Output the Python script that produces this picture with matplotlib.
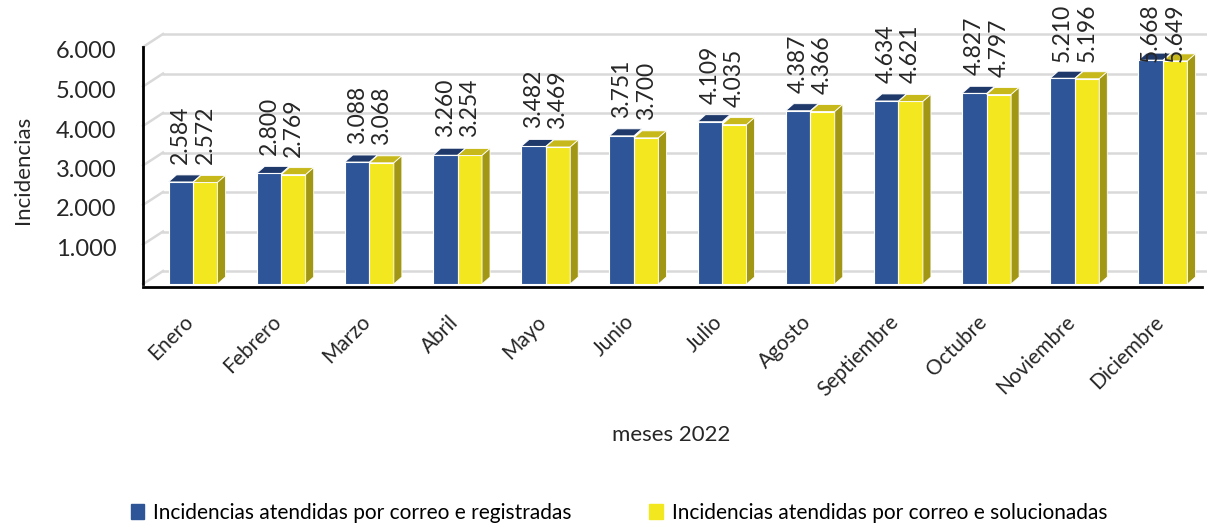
import matplotlib
matplotlib.use("Agg")
import matplotlib.pyplot as plt
import matplotlib.transforms as mtransforms
from matplotlib.patches import Polygon, Patch
import numpy as np

plt.rcParams['font.family'] = ['Lato', 'DejaVu Sans']
plt.rcParams['font.weight'] = 'normal'

months = ["Enero", "Febrero", "Marzo", "Abril", "Mayo", "Junio", "Julio",
          "Agosto", "Septiembre", "Octubre", "Noviembre", "Diciembre"]
registradas = [2584, 2800, 3088, 3260, 3482, 3751, 4109, 4387, 4634, 4827, 5210, 5668]
solucionadas = [2572, 2769, 3068, 3254, 3469, 3700, 4035, 4366, 4621, 4797, 5196, 5649]
series_names = ["Incidencias atendidas por correo e registradas",
                "Incidencias atendidas por correo e solucionadas"]
yticks = [1000, 2000, 3000, 4000, 5000, 6000]
ytick_labels = ["1.000", "2.000", "3.000", "4.000", "5.000", "6.000"]

def fmt(v):
    return f"{v:,}".replace(",", ".")

BLUE, BLUE_TOP = "#2E5597", "#1F3A6A"
YEL, YEL_TOP, YEL_SIDE = "#F3E71F", "#C7B81C", "#A19714"
GRID = "#D9D9D9"
TXT = "#262626"

W, H = 1207, 529
fig = plt.figure(figsize=(W / 100, H / 100), dpi=100)
ax_l, ax_r, ax_t, ax_b = 143, 1202, 47, 284
ax = fig.add_axes([ax_l / W, 1 - ax_b / H, (ax_r - ax_l) / W, (ax_b - ax_t) / H])

x = np.arange(len(months))
spacing = 88.18
xl = (ax_l - 193) / spacing
xr = (ax_r - 193) / spacing
ax.set_xlim(xl, xr)
ax.set_ylim(0, 6000)

# pixel -> data conversions
px_x = (xr - xl) / (ax_r - ax_l)
px_y = 6000 / (ax_b - ax_t)

# back wall gridlines (perspective)
wall_dx, wall_dy = 20, 13
for v in [0] + yticks:
    yb = v + wall_dy * px_y
    ax.plot([xl, xl + wall_dx * px_x], [v, yb], color=GRID, lw=1.8, clip_on=False, zorder=0)
    ax.plot([xl + wall_dx * px_x, xr + 8 * px_x], [yb, yb], color=GRID, lw=1.8, clip_on=False, zorder=0)

bw = 24.5 * px_x
ddx, ddy = 8 * px_x, 7 * px_y

ax.bar(x - bw / 2, registradas, width=bw, color=BLUE, edgecolor="white", lw=0.8, zorder=3)
ax.bar(x + bw / 2, solucionadas, width=bw, color=YEL, edgecolor="white", lw=0.8, zorder=3)

for i in range(len(months)):
    x0, x1, h = x[i] - bw, x[i], registradas[i]
    ax.add_patch(Polygon([(x0, h), (x1, h), (x1 + ddx, h + ddy), (x0 + ddx, h + ddy)],
                         closed=True, facecolor=BLUE_TOP, edgecolor="white", lw=0.6, zorder=2))
    x0, x1, h = x[i], x[i] + bw, solucionadas[i]
    ax.add_patch(Polygon([(x0, h), (x1, h), (x1 + ddx, h + ddy), (x0 + ddx, h + ddy)],
                         closed=True, facecolor=YEL_TOP, edgecolor="white", lw=0.6, zorder=4))
    ax.add_patch(Polygon([(x1, 0), (x1, h), (x1 + ddx, h + ddy), (x1 + ddx, ddy)],
                         closed=True, facecolor=YEL_SIDE, edgecolor="white", lw=0.6, zorder=4))

# value labels
gap = 18 * px_y
label_max = 5620
for i in range(len(months)):
    for vals, off in ((registradas, -bw / 2), (solucionadas, bw / 2)):
        yv = min(vals[i] + gap, label_max)
        ax.text(x[i] + off, yv, fmt(vals[i]), rotation=90, ha="center", va="bottom",
                fontsize=16.5, color=TXT, zorder=6, clip_on=False)

for s in ["top", "right"]:
    ax.spines[s].set_visible(False)
ax.spines["left"].set_linewidth(2)
ax.spines["bottom"].set_linewidth(2)
ax.spines["bottom"].set_position(("outward", 2))
ax.set_yticks(yticks)
ax.set_yticklabels(ytick_labels, fontsize=17, color=TXT)
ax.tick_params(axis="y", length=0, pad=19)
shift = mtransforms.ScaledTranslation(0, -3 / 100, fig.dpi_scale_trans)
for lab in ax.get_yticklabels():
    lab.set_transform(lab.get_transform() + shift)
ax.set_xticks(x - 0.03)
ax.set_xticklabels(months, rotation=45, ha="right", va="center", rotation_mode="anchor",
                   fontsize=15, color=TXT)
ax.tick_params(axis="x", length=0, pad=23)

fig.text(23 / W, 1 - 170 / H, "Incidencias", rotation=90, ha="center", va="center",
         fontsize=16, color=TXT)
fig.text(671 / W, 1 - 435 / H, "meses 2022", ha="center", va="center",
         fontsize=16, color=TXT)

handles = [Patch(facecolor=BLUE, edgecolor=BLUE), Patch(facecolor=YEL, edgecolor=YEL)]
fig.legend(handles, series_names, loc="center", bbox_to_anchor=(619 / W, 1 - 513 / H),
           ncol=2, frameon=False, fontsize=15, handlelength=0.65, handleheight=0.75,
           handletextpad=0.45, columnspacing=3.7)

fig.savefig("out.png", dpi=100)
